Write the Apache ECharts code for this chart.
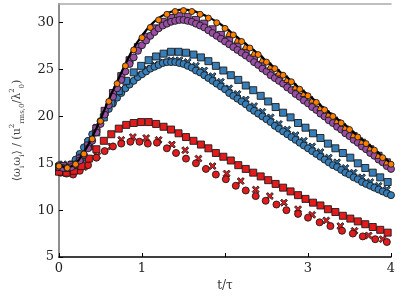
<!DOCTYPE html>
<html><head><meta charset="utf-8">
<script src="https://cdn.jsdelivr.net/npm/echarts@6/dist/echarts.min.js"></script>
<style>html,body{margin:0;padding:0;background:#fff}#c{width:415px;height:297px}</style>
</head><body><div id="c"></div>
<script>
// time grids
const tLine = [0,0.1,0.2,0.3,0.4,0.5,0.6,0.7,0.8,0.9,1.0,1.1,1.2,1.3,1.4,1.5,1.6,1.7,1.8,1.9,2.0,2.1,2.2,2.3,2.4,2.5,2.6,2.7,2.8,2.9,3.0,3.1,3.2,3.3,3.4,3.5,3.6,3.7,3.8,3.9,4.0];
const tHalf = [0.05,0.15,0.25,0.35,0.45,0.55,0.65,0.75,0.85,0.95,1.05,1.15,1.25,1.35,1.45,1.55,1.65,1.75,1.85,1.95,2.05,2.15,2.25,2.35,2.45,2.55,2.65,2.75,2.85,2.95,3.05,3.15,3.25,3.35,3.45,3.55,3.65,3.75,3.85,3.95];
const tFine = [0,0.05,0.1,0.15,0.2,0.25,0.3,0.35,0.4,0.45,0.5,0.55,0.6,0.65,0.7,0.75,0.8,0.85,0.9,0.95,1.0,1.05,1.1,1.15,1.2,1.25,1.3,1.35,1.4,1.45,1.5,1.55,1.6,1.65,1.7,1.75,1.8,1.85,1.9,1.95,2.0,2.05,2.1,2.15,2.2,2.25,2.3,2.35,2.4,2.45,2.5,2.55,2.6,2.65,2.7,2.75,2.8,2.85,2.9,2.95,3.0,3.05,3.1,3.15,3.2,3.25,3.3,3.35,3.4,3.45,3.5,3.55,3.6,3.65,3.7,3.75,3.8,3.85,3.9,3.95,4.0];
const tSq = [0,0.09,0.18,0.27,0.36,0.45,0.54,0.63,0.72,0.81,0.9,0.99,1.08,1.17,1.26,1.35,1.44,1.53,1.62,1.71,1.8,1.89,1.98,2.07,2.16,2.25,2.34,2.43,2.52,2.61,2.7,2.79,2.88,2.97,3.06,3.15,3.24,3.33,3.42,3.51,3.6,3.69,3.78,3.87,3.96];
const tTri = [2.05,2.15,2.25,2.35,2.45,2.55,2.65,2.75,2.85,2.95,3.05,3.15,3.25,3.35,3.45,3.55,3.65,3.75,3.85,3.95];

// series values
const blackLine = [14.8,14.6,15.0,16.2,17.8,19.7,21.8,23.7,25.6,27.3,28.6,29.7,30.5,31.0,31.3,31.4,31.3,31.0,30.6,30.1,29.5,28.8,28.1,27.4,26.7,25.9,25.2,24.5,23.8,23.0,22.3,21.6,20.8,20.1,19.4,18.7,17.9,17.2,16.5,15.7,15.0];
const orangeCircles = [14.7,14.5,14.9,16.0,17.6,19.5,21.6,23.5,25.4,27.1,28.4,29.5,30.3,30.9,31.2,31.3,31.2,30.9,30.5,30.0,29.4,28.7,28.0,27.3,26.6,25.8,25.1,24.4,23.7,22.9,22.2,21.5,20.7,20.0,19.3,18.6,17.8,17.1,16.4,15.6,14.9];
const orangeTriangles = [28.9,28.2,27.5,26.8,26.1,25.4,24.7,24.0,23.2,22.5,21.8,21.0,20.3,19.6,18.9,18.1,17.4,16.7,15.9,15.2];
const purpleCircles = [14.6,14.5,14.5,14.6,14.9,15.3,15.9,16.6,17.4,18.3,19.2,20.2,21.2,22.1,23.0,23.9,24.8,25.6,26.3,27.0,27.6,28.1,28.6,29.0,29.4,29.7,29.9,30.1,30.2,30.3,30.3,30.2,30.1,29.9,29.7,29.5,29.2,28.9,28.6,28.3,28.0,27.7,27.4,27.1,26.8,26.5,26.2,25.8,25.5,25.1,24.8,24.4,24.1,23.8,23.5,23.1,22.8,22.4,22.1,21.7,21.4,21.0,20.7,20.3,20.0,19.6,19.3,18.9,18.6,18.2,17.9,17.5,17.2,16.8,16.5,16.1,15.8,15.4,15.1,14.7,14.4];
const purpleSquares = [14.7,14.8,15.5,16.9,18.7,20.6,22.5,24.3,26.0,27.4,28.5,29.4,30.1,30.5,30.7,30.6,30.3,29.9,29.3,28.7,28.1,27.5,26.9,26.2,25.5,24.8,24.2,23.5,22.8,22.1,21.4,20.7,20.0,19.3,18.6,17.9,17.2,16.5,15.8,15.1];
const blueSquares = [14.6,14.5,14.8,15.6,16.8,18.3,19.9,21.4,22.7,23.8,24.7,25.4,26.0,26.4,26.7,26.9,26.9,26.8,26.6,26.3,25.9,25.4,24.9,24.4,23.9,23.3,22.8,22.2,21.6,21.0,20.4,19.9,19.3,18.8,18.2,17.7,17.1,16.6,16.1,15.6,15.0,14.5,14.0,13.5,13.0];
const blueCircles = [14.8,14.7,14.6,14.9,15.4,16.0,16.7,17.4,18.1,18.8,19.5,20.2,20.8,21.4,22.0,22.5,23.0,23.4,23.8,24.2,24.5,24.8,25.1,25.3,25.5,25.7,25.8,25.8,25.8,25.7,25.6,25.4,25.2,24.9,24.7,24.4,24.1,23.8,23.5,23.2,22.9,22.5,22.2,21.9,21.6,21.3,20.9,20.6,20.3,20.0,19.7,19.4,19.0,18.7,18.4,18.1,17.8,17.5,17.2,16.9,16.6,16.3,16.0,15.7,15.4,15.1,14.8,14.6,14.3,14.0,13.8,13.5,13.3,13.0,12.8,12.6,12.4,12.2,12.0,11.8,11.6];
const blueCrosses = [14.9,14.9,15.9,17.3,18.8,20.3,21.7,22.8,23.7,24.5,25.1,25.5,25.8,26.0,26.0,25.8,25.4,24.9,24.3,23.7,23.0,22.4,21.8,21.1,20.5,19.9,19.2,18.6,18.0,17.4,16.8,16.2,15.6,15.1,14.5,14.0,13.5,13.0,12.6,12.2];
const redSquares = [14.1,14.0,14.2,14.7,15.5,16.5,17.4,18.1,18.7,19.1,19.3,19.4,19.4,19.2,18.9,18.6,18.2,17.8,17.4,17.0,16.6,16.1,15.7,15.3,14.8,14.4,14.0,13.6,13.2,12.8,12.4,12.0,11.6,11.2,10.8,10.5,10.1,9.8,9.4,9.1,8.8,8.5,8.2,7.9,7.6];
const redCircles = [[0.02,14.0],[0.09,13.9],[0.17,13.8],[0.25,14.2],[0.35,14.8],[0.45,15.6],[0.55,16.3],[0.65,16.8],[0.75,17.1],[0.86,17.3],[0.97,17.3],[1.07,17.1],[1.18,17.2],[1.3,16.6],[1.41,16.1],[1.53,15.5],[1.65,15.0],[1.77,14.4],[1.89,13.8],[2.01,13.3],[2.13,12.6],[2.25,12.1],[2.37,11.5],[2.49,11.0],[2.62,10.6],[2.74,10.0],[2.88,9.6],[3.0,9.2],[3.14,8.7],[3.27,8.3],[3.41,7.8],[3.54,7.5],[3.66,7.2],[3.81,6.9],[3.95,6.6]];
const redCrosses = [[0.3,14.6],[0.46,15.8],[0.63,16.8],[0.75,17.5],[0.89,17.8],[1.05,17.7],[1.2,17.5],[1.36,17.0],[1.52,16.4],[1.68,15.5],[1.85,14.7],[2.02,13.9],[2.19,13.1],[2.37,12.2],[2.54,11.5],[2.71,10.8],[2.88,10.1],[3.05,9.5],[3.22,8.9],[3.39,8.3],[3.56,7.8],[3.73,7.3],[3.9,6.9]];

const xTicks = ['0','1','','3','4'];
const yTicks = [5,10,15,20,25,30];

const zip = (t, v) => t.map((x, i) => [x, v[i]]);
const XPATH = 'path://M2,0L5,3L8,0L10,2L7,5L10,8L8,10L5,7L2,10L0,8L3,5L0,2Z';
const FONT = 'DejaVu Serif';
const edge = {borderColor: '#1a1a1a', borderWidth: 0.9};

function sc(name, data, symbol, size, color, z) {
  return {name, type: 'scatter', data, symbol, symbolSize: size, z: z,
    itemStyle: Object.assign({color: color, opacity: 1}, edge), silent: true};
}

const chart = echarts.init(document.getElementById('c'), null, {renderer: 'canvas'});
chart.setOption({
  animation: false,
  backgroundColor: '#fff',
  grid: {left: 59, right: 24, top: 4, bottom: 34, containLabel: false},
  xAxis: [{
    type: 'value', min: 0, max: 4, interval: 1,
    name: 't/τ', nameLocation: 'middle', nameGap: 23,
    nameTextStyle: {fontFamily: FONT, fontSize: 12, color: '#333'},
    axisLine: {show: true, onZero: false, lineStyle: {color: '#000', width: 1.5}},
    axisTick: {show: true, inside: true, length: 4, lineStyle: {color: '#000', width: 1}},
    axisLabel: {fontFamily: FONT, fontSize: 13, color: '#222', margin: 5,
      formatter: v => { const i = Math.round(v); return (Math.abs(v - i) < 1e-6 && i >= 0 && i < xTicks.length) ? xTicks[i] : ''; }},
    splitLine: {show: false}
  }, {
    type: 'value', position: 'top', min: 0, max: 4,
    axisLine: {show: true, lineStyle: {color: '#aaa', width: 1.5}},
    axisTick: {show: false}, axisLabel: {show: false}, splitLine: {show: false}
  }],
  yAxis: [{
    type: 'value', min: 5, max: 32, interval: 5,
    name: '{n|⟨ω}{s|i}{n|ω}{s|i}{n|⟩ / (u}{p|2}{s|rms,0}{n|/λ}{p|2}{s|0}{n|)}',
    nameLocation: 'middle', nameGap: 36, nameRotate: 90,
    nameTextStyle: {fontFamily: FONT, color: '#444',
      rich: {
        n: {fontFamily: FONT, fontSize: 11, color: '#444', verticalAlign: 'bottom'},
        s: {fontFamily: FONT, fontSize: 7, color: '#444', verticalAlign: 'bottom', padding: [0, 0, -3, 0]},
        p: {fontFamily: FONT, fontSize: 7, color: '#444', verticalAlign: 'bottom', padding: [0, 0, 7, 0]}
      }},
    axisLine: {show: true, onZero: false, lineStyle: {color: '#000', width: 1.5}},
    axisTick: {show: true, inside: true, length: 4, lineStyle: {color: '#000', width: 1}},
    axisLabel: {fontFamily: FONT, fontSize: 13, color: '#222', margin: 5, showMaxLabel: false,
      formatter: v => yTicks.indexOf(v) >= 0 ? String(v) : ''},
    splitLine: {show: false}
  }, {
    type: 'value', position: 'right', min: 5, max: 32,
    axisLine: {show: true, lineStyle: {color: '#aaa', width: 1.5}},
    axisTick: {show: false}, axisLabel: {show: false}, splitLine: {show: false}
  }],
  series: [
    sc('redCrosses', redCrosses, XPATH, 7, '#e41a1c', 2),
    sc('redCircles', redCircles, 'circle', 7, '#e41a1c', 3),
    sc('redSquares', zip(tSq, redSquares), 'rect', 7, '#e41a1c', 3),
    sc('blueCrosses', zip(tHalf, blueCrosses), XPATH, 7, '#2c6aa0', 2),
    sc('blueCircles', zip(tFine, blueCircles), 'circle', 7, '#377eb8', 3),
    sc('blueSquares', zip(tSq, blueSquares), 'rect', 7, '#377eb8', 3),
    sc('purpleSquares', zip(tHalf, purpleSquares), 'rect', 7, '#984ea3', 3),
    sc('purpleCircles', zip(tFine, purpleCircles), 'circle', 7, '#984ea3', 3),
    sc('orangeTriangles', zip(tTri, orangeTriangles), 'triangle', 7, '#ff7f00', 4),
    {name: 'blackLine', type: 'line', data: zip(tLine, blackLine), smooth: true, showSymbol: false, z: 5,
      lineStyle: {color: '#000', width: 2.2}, silent: true},
    sc('orangeCircles', zip(tLine, orangeCircles), 'circle', 6, '#ff7f00', 6)
  ]
});
</script></body></html>
